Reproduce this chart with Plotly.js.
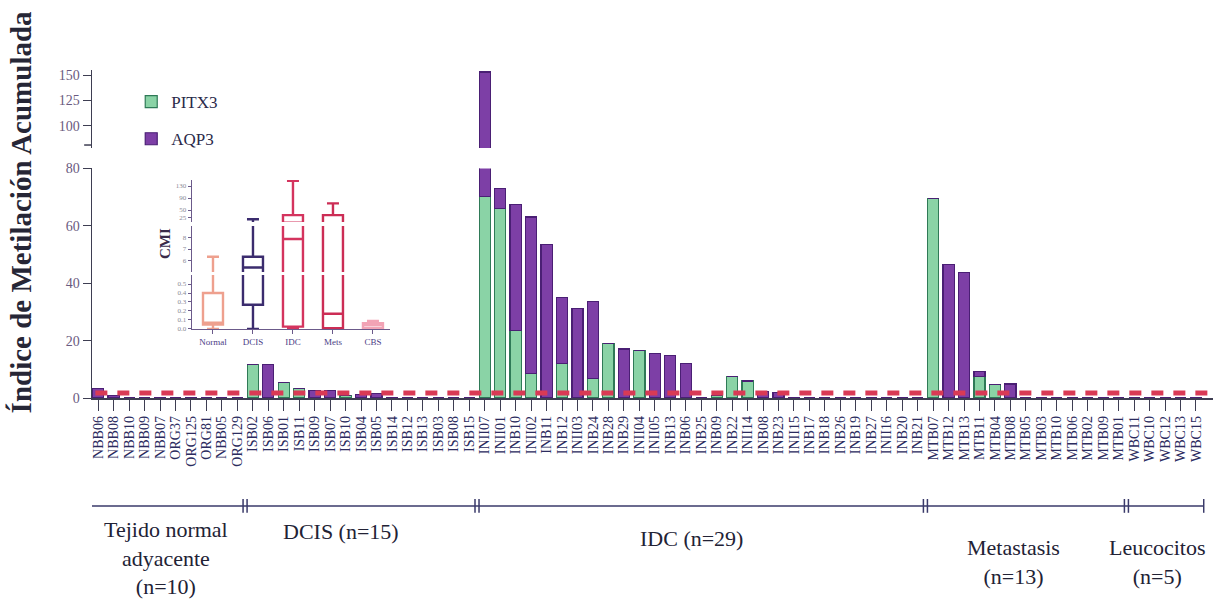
<!DOCTYPE html>
<html>
<head>
<meta charset="utf-8">
<script src="https://cdn.plot.ly/plotly-3.0.1.min.js"></script>
<style>html,body{margin:0;padding:0;background:#fff;}#chart{width:1219px;height:607px;}</style>
</head>
<body>
<div id="chart"></div>
<script>
// ---------- DATA ----------
const categories = [
  "NBB06","NBB08","NBB10","NBB09","NBB07","ORG37","ORG125","ORG81","NBB05","ORG129",
  "ISB02","ISB06","ISB01","ISB11","ISB09","ISB07","ISB10","ISB04","ISB05","ISB14","ISB12","ISB13","ISB03","ISB08","ISB15",
  "INII07","INII01","INB10","INII02","INB11","INB12","INII03","INB24","INB28","INB29","INII04","INII05","INB13","INB06","INB25",
  "INB09","INB22","INII14","INB08","INB23","INII15","INB17","INB18","INB26","INB19","INB27","INII16","INB20","INB21",
  "MTB07","MTB12","MTB13","MTB11","MTB04","MTB08","MTB05","MTB03","MTB10","MTB06","MTB02","MTB09","MTB01",
  "WBC11","WBC10","WBC12","WBC13","WBC15"
];
const pitx3 = [
  0,0,0,0,0,0,0,0,0,0,
  11.6,0,5.4,3.3,0,0,0.8,0,0,0,0,0,0,0,0,
  70.3,66,23.6,8.4,0,12,0,6.9,19.1,0,16.5,0,0,0,0,
  1.0,7.5,5.9,0,0,0,0,0,0,0,0,0,0,0,
  69.5,0,0,7.5,4.8,0,0,0,0,0,0,0,0,
  0,0,0,0,0
];
const aqp3 = [
  3.3,1.0,0,0,0,0,0,0,0,0,
  0,11.6,0,0,2.7,2.6,0,1.2,1.5,0,0,0,0,0,0,
  82.7,6.9,43.9,54.7,53.4,23,31.2,26.7,0,17.1,0,15.4,14.7,12.1,0,
  0,0,0,2.3,2.0,0,0,0,0,0,0,0,0,0,
  0,46.6,43.6,1.7,0,4.9,0,0,0,0,0,0,0,
  0,0,0,0,0
];
const threshold = 1.7;
const groupNames = ["Tejido normal<br>adyacente<br>(n=10)","DCIS (n=15)","IDC (n=29)","Metastasis<br>(n=13)","Leucocitos<br>(n=5)"];
const groupSizes = [10,15,29,13,5];

// inset box plot (CMI) statistics
const boxGroups = ["Normal","DCIS","IDC","Mets","CBS"];
const boxQ1 = [0.05,0.27,0.026,0.01,0.01];
const boxMedian = [0.07,5.4,7.87,0.17,0.04];
const boxQ3 = [0.40,6.33,33,33,0.063];
const boxLow = [0,0,0,0,0];
const boxHigh = [6.33,19,147,72,0.09];
const upperTicks = [100,125,150];
const lowerTicks = [0,20,40,60,80];

// ---------- STYLE ----------
const green = '#8ad3a6', greenLine = '#2f7a57';
const purple = '#7d3fa6', purpleLine = '#4a1f74';
const boxColors = ['#eea08e','#3b2c6e','#d4345e','#cc2d55','#f2a3b5'];
const axisCol = '#3e3e52';
const serif = '"Liberation Serif", "Times New Roman", serif';

const traces = [];
traces.push({type:'bar', name:'PITX3', x:categories, y:pitx3, xaxis:'x', yaxis:'y',
  marker:{color:green, line:{color:greenLine, width:1.2}}, width:0.72, legendgroup:'a', hoverinfo:'x+y'});
traces.push({type:'bar', name:'AQP3', x:categories, y:aqp3, xaxis:'x', yaxis:'y',
  marker:{color:purple, line:{color:purpleLine, width:1.2}}, width:0.72, legendgroup:'b', hoverinfo:'x+y'});

// upper (broken-axis) segment: totals above the break
const totals = categories.map((c,i)=>pitx3[i]+aqp3[i]);
const upCats = categories.filter((c,i)=>totals[i]>80);
const upVals = totals.filter(v=>v>80);
traces.push({type:'bar', x:upCats, y:upVals, xaxis:'x', yaxis:'y2', showlegend:false,
  marker:{color:purple, line:{color:purpleLine, width:1.2}}, width:0.72, hoverinfo:'x+y'});

// inset boxes on the three broken segments
['y3','y4','y5'].forEach(ax=>{
  boxGroups.forEach((g,i)=>{
    traces.push({type:'box', x:[g], q1:[boxQ1[i]], median:[boxMedian[i]], q3:[boxQ3[i]],
      lowerfence:[boxLow[i]], upperfence:[boxHigh[i]], xaxis:'x2', yaxis:ax,
      line:{color:boxColors[i], width:2.4}, fillcolor:'rgba(255,255,255,0)', width:0.5,
      whiskerwidth:0.6, boxpoints:false, showlegend:false, hoverinfo:'skip'});
  });
});

// group brackets
const shapes = [];
const bracketY = -0.329, half = 0.021;
let start = 0; const bounds = [-0.5];
groupSizes.forEach(n=>{ start += n; bounds.push(start-0.5); });
shapes.push({type:'line', xref:'x', yref:'paper', x0:bounds[0]-0.15, x1:bounds[bounds.length-1], y0:bracketY, y1:bracketY, line:{color:'#3a3a6a', width:1.5}});
bounds.forEach((b,i)=>{
  const ends = (i===0 || i===bounds.length-1);
  const offs = ends ? [0] : [-0.13,0.13];
  offs.forEach(o=>{
    const xx = (i===0? b-0.15 : b) + o;
    shapes.push({type:'line', xref:'x', yref:'paper', x0:xx, x1:xx, y0:bracketY-half, y1:bracketY+half, line:{color:'#3a3a6a', width:1.5}});
  });
});
// small break mark at bottom of upper axis segment
shapes.push({type:'line', xref:'paper', yref:'y2', x0:-0.007, x1:0, y0:81, y1:81, line:{color:axisCol, width:1.5}});
// threshold dashed line
shapes.push({type:'line', xref:'paper', yref:'y', x0:0.003, x1:1, y0:threshold, y1:threshold,
  line:{color:'#d93a55', width:5, dash:'12px,10px'}});

const annotations = [];
const groupY = [-0.488,-0.408,-0.427,-0.50,-0.50];
const groupShift = [-2,-20,-10,-12,-8];
start = 0;
groupSizes.forEach((n,i)=>{
  const center = start + (n-1)/2; start += n;
  annotations.push({xref:'x', yref:'paper', x:center, y:groupY[i], xshift:groupShift[i], text:groupNames[i], showarrow:false,
    font:{family:serif, size:22, color:'#222235'}, align:'center', xanchor:'center', yanchor:'middle'});
});
annotations.push({xref:'paper', yref:'paper', x:-0.063, y:0.567, text:'<b>Índice de Metilación Acumulada</b>',
  textangle:-90, showarrow:false, font:{family:serif, size:29, color:'#262636'}, xanchor:'center', yanchor:'middle'});
annotations.push({xref:'paper', yref:'paper', x:0.0651, y:0.4726, text:'<b>CMI</b>', textangle:-90, showarrow:false,
  font:{family:serif, size:15, color:'#3a2a4a'}, xanchor:'center', yanchor:'middle'});

const yCommon = {showline:true, linecolor:axisCol, linewidth:1.5, ticks:'outside', ticklen:8, tickcolor:axisCol,
  tickfont:{family:serif, size:14, color:'#6a5a80'}, showgrid:false, zeroline:false, fixedrange:true};
const insetY = {showline:true, linecolor:'#6b5a8a', linewidth:1.4, ticks:'outside', ticklen:3, tickcolor:'#6b5a8a',
  tickfont:{family:serif, size:7, color:'#8a8a95'}, showgrid:false, zeroline:false, anchor:'x2', fixedrange:true};

const layout = {
  width:1219, height:607, margin:{l:92, r:6, t:70, b:209},
  paper_bgcolor:'#ffffff', plot_bgcolor:'rgba(0,0,0,0)',
  barmode:'stack', showlegend:true,
  font:{family:serif},
  legend:{x:0.035, y:0.957, xanchor:'left', yanchor:'top', bgcolor:'rgba(0,0,0,0)',
    font:{family:serif, size:17, color:'#2a2a4a'}, tracegroupgap:12, itemwidth:30},
  xaxis:{type:'category', categoryorder:'array', categoryarray:categories, range:[-0.4,72.1], anchor:'y',
    tickmode:'array', tickvals:categories, ticktext:categories,
    showline:true, linecolor:axisCol, linewidth:1.5, ticks:'outside', ticklen:11, tickcolor:axisCol,
    tickangle:-90, tickfont:{family:serif, size:14, color:'#2b2b5e'}, showgrid:false, zeroline:false, fixedrange:true},
  yaxis:Object.assign({}, yCommon, {domain:[0,0.7], range:[0,80], tickvals:lowerTicks, anchor:'x'}),
  yaxis2:Object.assign({}, yCommon, {domain:[0.762,1], range:[78,155], tickvals:upperTicks, anchor:'x'}),
  xaxis2:{type:'category', categoryorder:'array', categoryarray:boxGroups, domain:[0.0892,0.2658], anchor:'y3',
    range:[-0.525,4.425], showline:true, linecolor:'#6b5a8a', linewidth:1.4, ticks:'outside', ticklen:4,
    tickcolor:'#6b5a8a', tickfont:{family:serif, size:9, color:'#4b3d86'}, showgrid:false, zeroline:false, fixedrange:true},
  yaxis3:Object.assign({}, insetY, {domain:[0.2104,0.375], range:[0,0.6], tickvals:[0,0.1,0.2,0.3,0.4,0.5], tickformat:'.1f'}),
  yaxis4:Object.assign({}, insetY, {domain:[0.384,0.5244], range:[5,9], tickvals:[6,7,8]}),
  yaxis5:Object.assign({}, insetY, {domain:[0.5366,0.6646], range:[10,150], tickvals:[25,50,90,130]}),
  shapes:shapes, annotations:annotations
};

Plotly.newPlot('chart', traces, layout, {displayModeBar:false, staticPlot:true});
</script>
</body>
</html>
